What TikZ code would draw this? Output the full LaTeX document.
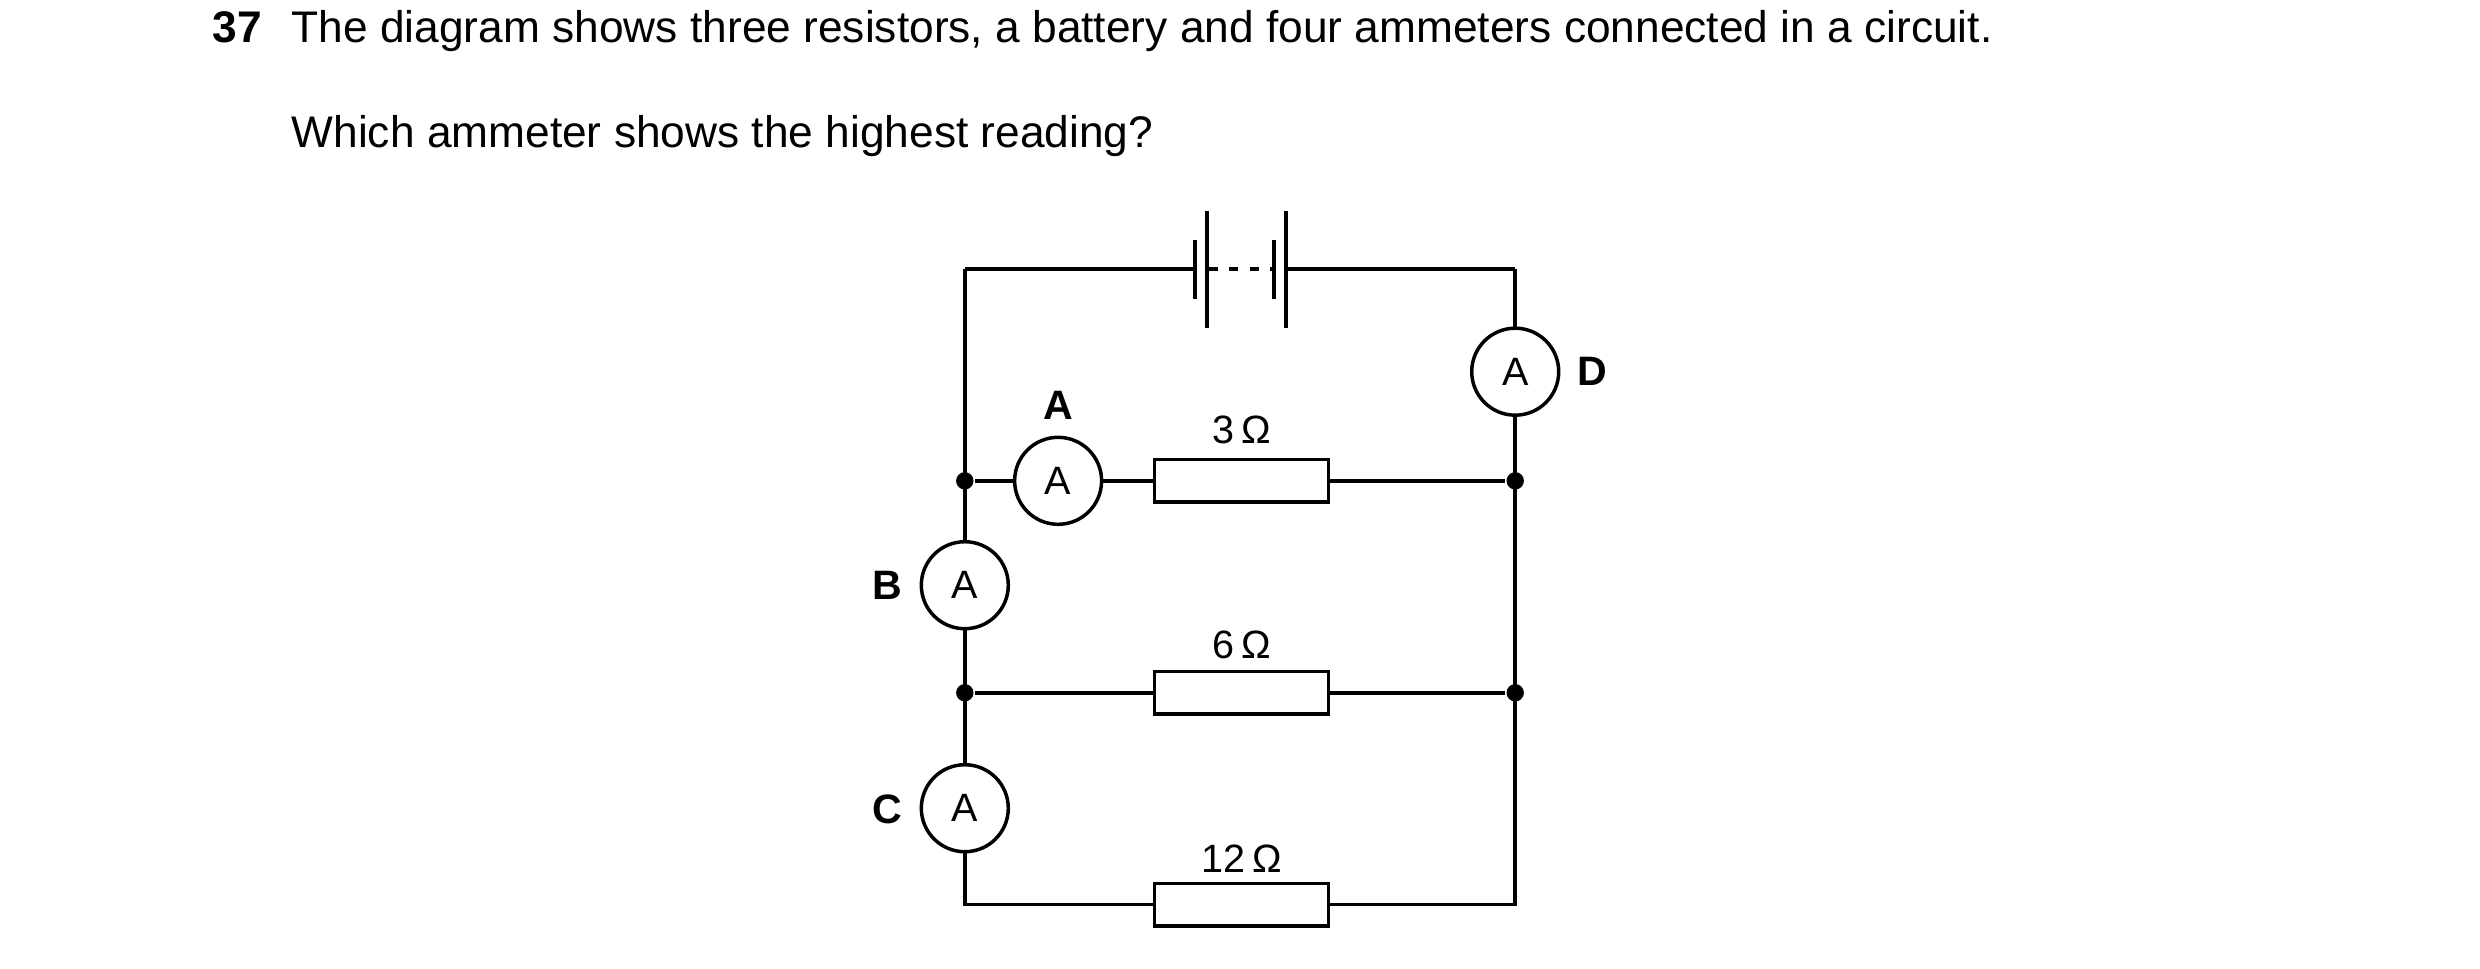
\documentclass[tikz,border=0pt]{standalone}
\usepackage{fontspec}
\setmainfont{Liberation Sans}
\begin{document}
\begin{tikzpicture}[x=1pt,y=-1pt,line width=2.2pt,
  amm/.style={circle,draw,fill=white,minimum size=55pt,inner sep=0pt,font=\fontsize{25}{30}\selectfont},
  res/.style={rectangle,draw,fill=white,minimum width=110pt,minimum height=27pt,inner sep=0pt},
  lab/.style={font=\fontsize{26}{30}\selectfont\bfseries},
  val/.style={font=\fontsize{25}{30}\selectfont},
  dot/.style={circle,fill,inner sep=0pt,minimum size=11pt}]
\useasboundingbox (0,0) rectangle (1568,612.6);
\node[anchor=base west,font=\fontsize{28}{32}\selectfont\bfseries] (q) at (130,27) {37};
\node[anchor=base west,font=\fontsize{28}{32}\selectfont] (t1) at (180,27) {The diagram shows three resistors, a battery and four ammeters connected in a circuit.};
\node[anchor=base west,font=\fontsize{28}{32}\selectfont] (t2) at (180,93) {Which ammeter shows the highest reading?};
% corners
\coordinate (tl) at (610,170); \coordinate (tr) at (958,170);
\coordinate (bl) at (610,572); \coordinate (br) at (958,572);
\node[dot] (j1l) at (610,304) {}; \node[dot] (j1r) at (958,304) {};
\node[dot] (j2l) at (610,438) {}; \node[dot] (j2r) at (958,438) {};
% battery
\coordinate (b1) at (755.6,170); \coordinate (b4) at (813.1,170);
\draw (tl) -- (b1); \draw (b4) -- (tr);
\draw (755.6,151.7) -- (755.6,189);
\draw (763.1,133.4) -- (763.1,207.4);
\draw (805.5,151.7) -- (805.5,189);
\draw (813.1,133.4) -- (813.1,207.4);
\draw[dash pattern=on 6pt off 7pt] (764,170) -- (805,170);
% wires
\draw (tl) -- (bl) -- (br) -- (tr);
\draw (j1l) -- (j1r);
\draw (j2l) -- (j2r);
% components
\node[amm] (D) at (958,235) {A}; \node[lab] (Dl) at (1007,235) {D};
\node[amm] (A) at (669,304) {A}; \node[lab] (Al) at (669,256) {A};
\node[amm] (B) at (610,370) {A}; \node[lab] (Bl) at (561,370) {B};
\node[amm] (C) at (610,511) {A}; \node[lab] (Cl) at (561,512) {C};
\node[res] (R1) at (785,304) {}; \node[val] (R1l) at (785,272) {3\,Ω};
\node[res] (R2) at (785,438) {}; \node[val] (R2l) at (785,408) {6\,Ω};
\node[res] (R3) at (785,572) {}; \node[val] (R3l) at (785,543) {12\,Ω};
\end{tikzpicture}
\end{document}
